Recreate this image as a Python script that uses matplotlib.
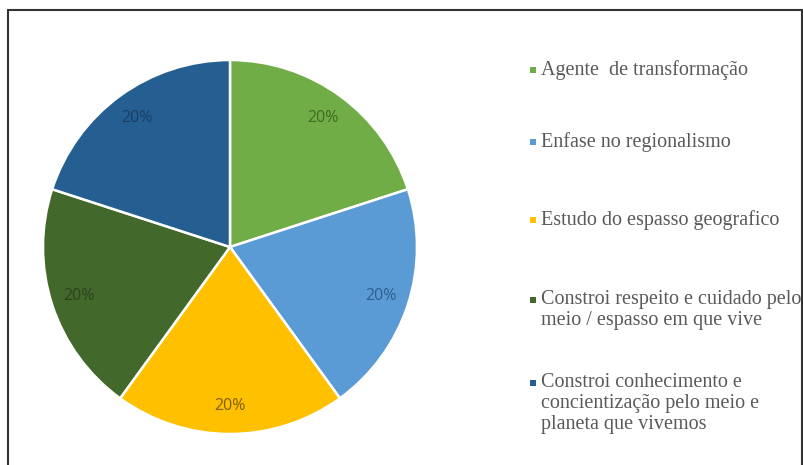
import matplotlib
matplotlib.use("Agg")
import matplotlib.pyplot as plt
from matplotlib.patches import Rectangle

# Categories and shares
labels = [
    "Agente  de transformação",
    "Enfase no regionalismo",
    "Estudo do espasso geografico",
    "Constroi respeito e cuidado pelo\nmeio / espasso em que vive",
    "Constroi conhecimento e\nconcientização pelo meio e\nplaneta que vivemos",
]
shares = [20, 20, 20, 20, 20]
colors = ["#70AD47", "#5B9BD5", "#FFC000", "#43682B", "#255E91"]
pct_colors = ["#3F6B22", "#2E5F8E", "#7F5F00", "#2B441C", "#1A3F63"]

fig = plt.figure(figsize=(8.04, 4.65), dpi=100)

# pie centred at (230, 247) px, radius 187 px
W, H = 804, 465
cx, cy, r = 230, 247, 187
ax = fig.add_axes([(cx - r) / W, (H - cy - r) / H, 2 * r / W, 2 * r / H])
wedges, texts, autotexts = ax.pie(
    shares, colors=colors, startangle=90, counterclock=False,
    autopct="%1.0f%%", pctdistance=0.85,
    wedgeprops=dict(edgecolor="white", linewidth=1.8),
    textprops=dict(family="Open Sans", fontsize=11.5),
)
for t, c in zip(autotexts, pct_colors):
    t.set_color(c)
ax.set_xlim(-1, 1)
ax.set_ylim(-1, 1)
ax.axis("off")

# legend drawn by hand: square marker + serif text, first line aligned with marker
legend_y = [70, 142, 220, 300, 383]
for lab, col, y in zip(labels, colors, legend_y):
    fig.patches.append(Rectangle((530 / W, (H - y - 3) / H), 6 / W, 6 / H,
                                 transform=fig.transFigure, facecolor=col,
                                 edgecolor="none"))
    fig.text(541 / W, (H - y + 10) / H, lab, family="Liberation Serif",
             fontsize=14.5, color="#595959", ha="left", va="top",
             linespacing=1.15)

# outer frame (bottom edge runs off the canvas)
fig.patches.append(Rectangle((8 / W, -0.05), (802 - 8) / W, 1.05 - 10 / H,
                             transform=fig.transFigure, fill=False,
                             edgecolor="#333333", linewidth=1.5))

fig.savefig("out.png", dpi=100)
